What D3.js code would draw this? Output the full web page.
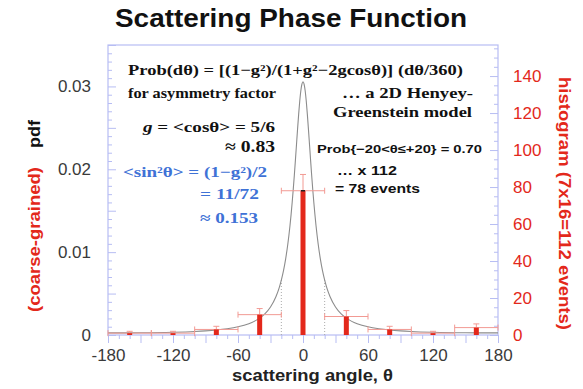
<!DOCTYPE html>
<html><head><meta charset="utf-8">
<script src="https://cdn.jsdelivr.net/npm/d3@7"></script>
<style>body{margin:0;background:#fff}svg{display:block}</style>
</head><body>
<svg id="c" width="583" height="389"></svg>
<script>
// ---- data ----
const binCenters = [-160, -120, -80, -40, 0, 40, 80, 120, 160];
const binCounts  = [1, 1, 3, 11, 78, 10, 3, 1, 4];
const binErr     = [1, 1, 1.7, 3.3, 8.8, 3.2, 1.7, 1, 2];
const curveAngles = [-180,-150,-120,-100,-90,-80,-70,-60,-50,-45,-40,-35,-30,-25,-22,-20,-18,-16,-14,-13,-12,-11,-10,-9,-8,-7,-6,-5,-4,-3,-2,-1,0,
                     1,2,3,4,5,6,7,8,9,10,11,12,13,14,16,18,20,22,25,30,35,40,45,50,60,70,80,90,100,120,150,180];
const curvePdf = [0.000253,0.000270,0.000336,0.000428,0.000501,0.000604,0.000755,0.000986,0.001362,0.001645,0.002032,0.002578,0.003381,0.004615,0.005691,0.006616,0.007762,0.009192,0.010983,0.012040,0.01322,0.014534,0.01599,0.01757,0.01929,0.02111,0.02300,0.02488,0.02666,0.02824,0.02948,0.03028,0.03056,
                  0.03028,0.02948,0.02824,0.02666,0.02488,0.02300,0.02111,0.01929,0.01757,0.01599,0.014534,0.01322,0.012040,0.010983,0.009192,0.007762,0.006616,0.005691,0.004615,0.003381,0.002578,0.002032,0.001645,0.001362,0.000986,0.000755,0.000604,0.000501,0.000428,0.000336,0.000270,0.000253];
const xTicks = [-180, -120, -60, 0, 60, 120, 180];
const yLeftTicks = [0, 0.01, 0.02, 0.03];
const yRightTicks = [0, 20, 40, 60, 80, 100, 120, 140];
const dottedAngles = [-20, 20];
const dottedPdf = [0.006616, 0.006616];

// ---- layout ----
const L = 108, R = 498, T = 45, B = 335;
const svg = d3.select("#c");
const frameCol = "#b7bdf3";
const red = "#e3281b";
const pink = "#f29a93";
const sans = "'Liberation Sans', Arial, sans-serif";
const serif = "'Liberation Serif', 'Times New Roman', serif";

const x = d3.scaleLinear().domain([-180, 180]).range([L, R]);
const yL = d3.scaleLinear().domain([0, 0.035]).range([B, T]);
const yR = d3.scaleLinear().domain([0, 156.8]).range([B, T]);

// frame
svg.append("rect").attr("x", L).attr("y", T).attr("width", R - L).attr("height", B - T)
  .attr("fill", "none").attr("stroke", frameCol).attr("stroke-width", 1.2);

// left axis ticks (inward)
const gl = svg.append("g").attr("transform", `translate(${L},0)`);
gl.call(d3.axisRight(yL).tickValues(d3.range(0, 0.0351, 0.001)).tickSize(4).tickFormat(""));
gl.call(g => g.select(".domain").remove());
gl.selectAll(".tick line").attr("stroke", frameCol)
  .attr("x2", d => (Math.round(d * 1000) % 5 === 0) ? 8 : 4);
svg.append("g").attr("transform", `translate(${L - 14},0)`)
  .call(d3.axisLeft(yL).tickValues(yLeftTicks).tickSize(0).tickFormat(d => d === 0 ? "0" : d3.format(".2f")(d)))
  .call(g => g.select(".domain").remove())
  .selectAll("text").attr("font-family", sans).attr("font-size", 17).attr("fill", "#3a3a3a");

// right axis ticks (inward)
const gr = svg.append("g").attr("transform", `translate(${R},0)`);
gr.call(d3.axisLeft(yR).tickValues(d3.range(0, 156, 5)).tickSize(4).tickFormat(""));
gr.call(g => g.select(".domain").remove());
gr.selectAll(".tick line").attr("stroke", frameCol)
  .attr("x2", d => (d % 20 === 0) ? -8 : -4);
svg.append("g").attr("transform", `translate(${R + 12},0)`)
  .call(d3.axisRight(yR).tickValues(yRightTicks).tickSize(0))
  .call(g => g.select(".domain").remove())
  .selectAll("text").attr("font-family", sans).attr("font-size", 17).attr("fill", red);

// bottom axis ticks (outward)
const gb = svg.append("g").attr("transform", `translate(0,${B})`);
gb.call(d3.axisBottom(x).tickValues(d3.range(-180, 181, 10)).tickSize(4).tickFormat(""));
gb.call(g => g.select(".domain").remove());
gb.selectAll(".tick line").attr("stroke", frameCol)
  .attr("y2", d => (d % 30 === 0) ? 8 : 4);
svg.append("g").attr("transform", `translate(0,${B + 11})`)
  .call(d3.axisBottom(x).tickValues(xTicks).tickSize(0).tickFormat(d => String(d)))
  .call(g => g.select(".domain").remove())
  .selectAll("text").attr("font-family", sans).attr("font-size", 17).attr("fill", "#3a3a3a");

// dotted lines at +-20
svg.selectAll(".dot").data(dottedAngles).join("line")
  .attr("x1", d => x(d)).attr("x2", d => x(d))
  .attr("y1", B).attr("y2", (d, i) => yL(dottedPdf[i]))
  .attr("stroke", "#aaa").attr("stroke-width", 1).attr("stroke-dasharray", "1,2");

// curve
const pts = curveAngles.map((a, i) => [a, curvePdf[i]]);
svg.append("path").datum(pts)
  .attr("d", d3.line().x(d => x(d[0])).y(d => yL(d[1])).curve(d3.curveMonotoneX))
  .attr("fill", "none").attr("stroke", "#8c8c8c").attr("stroke-width", 1.1);

// histogram
const bins = binCenters.map((c, i) => ({c, n: binCounts[i], e: binErr[i]}));
const gh = svg.append("g");
bins.forEach(b => {
  const y0 = yR(b.n);
  gh.append("line").attr("x1", x(b.c - 20)).attr("x2", x(b.c + 20)).attr("y1", y0).attr("y2", y0)
    .attr("stroke", pink).attr("stroke-width", 1);
  [b.c - 20, b.c + 20].forEach(e => gh.append("line").attr("x1", x(e)).attr("x2", x(e))
    .attr("y1", y0 - 3).attr("y2", y0 + 3).attr("stroke", pink).attr("stroke-width", 1));
  gh.append("line").attr("x1", x(b.c)).attr("x2", x(b.c)).attr("y1", yR(b.n + b.e)).attr("y2", y0)
    .attr("stroke", pink).attr("stroke-width", 1);
  gh.append("line").attr("x1", x(b.c) - 3).attr("x2", x(b.c) + 3).attr("y1", yR(b.n + b.e)).attr("y2", yR(b.n + b.e))
    .attr("stroke", pink).attr("stroke-width", 1);
});
gh.selectAll("rect").data(bins).join("rect")
  .attr("x", d => x(d.c) - 2.5).attr("width", 5)
  .attr("y", d => yR(d.n)).attr("height", d => B - yR(d.n))
  .attr("fill", red);
svg.append("line").attr("x1", x(0) - 2).attr("x2", x(0) + 2).attr("y1", yR(78)).attr("y2", yR(78))
  .attr("stroke", "#222").attr("stroke-width", 1.5);

// title
svg.append("text").attr("x", 115).attr("y", 27)
  .attr("font-family", sans).attr("font-weight", "bold").attr("font-size", 25).attr("fill", "#111")
  .attr("textLength", 352).attr("lengthAdjust", "spacingAndGlyphs")
  .text("Scattering Phase Function");

// axis titles
svg.append("text").attr("x", 232).attr("y", 381)
  .attr("font-family", sans).attr("font-weight", "bold").attr("font-size", 16).attr("fill", "#222")
  .attr("textLength", 161).attr("lengthAdjust", "spacingAndGlyphs")
  .text("scattering angle, θ");
svg.append("text").attr("transform", "translate(40,239.5) rotate(-90)").attr("text-anchor", "middle")
  .attr("font-family", sans).attr("font-weight", "bold").attr("font-size", 16).attr("fill", red)
  .attr("textLength", 145).attr("lengthAdjust", "spacingAndGlyphs")
  .text("(coarse-grained)");
svg.append("text").attr("transform", "translate(40,134) rotate(-90)").attr("text-anchor", "middle")
  .attr("font-family", sans).attr("font-weight", "bold").attr("font-size", 16).attr("fill", "#111")
  .attr("textLength", 28).attr("lengthAdjust", "spacingAndGlyphs")
  .text("pdf");
svg.append("text").attr("transform", "translate(559,203.5) rotate(90)").attr("text-anchor", "middle")
  .attr("font-family", sans).attr("font-weight", "bold").attr("font-size", 16).attr("fill", red)
  .attr("textLength", 253).attr("lengthAdjust", "spacingAndGlyphs")
  .text("histogram (7x16=112 events)");

// annotations
function ann(txt, xx, yy, opts) {
  const t = svg.append("text").attr("x", xx).attr("y", yy)
    .attr("font-family", opts.font || serif).attr("font-weight", "bold")
    .attr("font-size", opts.size || 15).attr("fill", opts.fill || "#111")
    .attr("text-anchor", opts.anchor || "start");
  if (opts.len) t.attr("textLength", opts.len).attr("lengthAdjust", "spacingAndGlyphs");
  t.text(txt);
  return t;
}
ann("Prob(dθ) = [(1−g²)/(1+g²−2gcosθ)] (dθ/360)", 128, 75, {len: 335});
ann("for asymmetry factor", 128, 98, {len: 148});
ann("… a 2D Henyey-", 342, 98, {len: 131});
ann("Greenstein model", 333, 117, {len: 139});
const gt = svg.append("text").attr("x", 143).attr("y", 132).attr("font-family", serif).attr("font-weight", "bold")
  .attr("font-size", 15).attr("fill", "#111").attr("textLength", 132).attr("lengthAdjust", "spacingAndGlyphs");
gt.append("tspan").attr("font-style", "italic").text("g");
gt.append("tspan").text(" = <cosθ> = 5/6");
ann("≈ 0.83", 225, 152, {size: 16, len: 50});
ann("<sin²θ> = (1−g²)/2", 123, 177, {fill: "#3f72d6", len: 144});
ann("= 11/72", 200, 199, {fill: "#3f72d6", len: 59});
ann("≈ 0.153", 200, 223, {fill: "#3f72d6", len: 58});
ann("Prob{−20<θ≤+20} = 0.70", 317, 153, {font: sans, size: 11.5, len: 165});
ann("… x 112", 337, 175, {font: sans, size: 13, len: 60});
ann("= 78 events", 335, 193, {font: sans, size: 13, len: 85});
</script>
</body></html>
